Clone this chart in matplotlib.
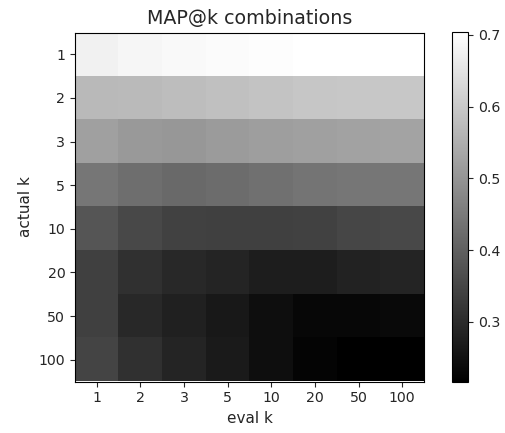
import numpy as np
import matplotlib
matplotlib.use("Agg")
import matplotlib.pyplot as plt

eval_k = [1, 2, 3, 5, 10, 20, 50, 100]
actual_k = [1, 2, 3, 5, 10, 20, 50, 100]

# rows: actual k, columns: eval k
map_scores = np.array([
    [0.677, 0.685, 0.691, 0.695, 0.700, 0.704, 0.704, 0.704],
    [0.570, 0.572, 0.578, 0.582, 0.591, 0.595, 0.597, 0.597],
    [0.522, 0.509, 0.505, 0.513, 0.518, 0.522, 0.526, 0.528],
    [0.442, 0.427, 0.419, 0.423, 0.430, 0.438, 0.442, 0.442],
    [0.379, 0.354, 0.342, 0.338, 0.338, 0.342, 0.350, 0.354],
    [0.338, 0.308, 0.296, 0.285, 0.273, 0.273, 0.281, 0.285],
    [0.338, 0.296, 0.277, 0.262, 0.243, 0.231, 0.231, 0.235],
    [0.346, 0.308, 0.285, 0.266, 0.243, 0.224, 0.216, 0.216],
])

plt.rcParams['text.color'] = '#262626'
plt.rcParams['axes.labelcolor'] = '#262626'
plt.rcParams['xtick.color'] = '#262626'
plt.rcParams['ytick.color'] = '#262626'
plt.rcParams['xtick.labelsize'] = 10.2
plt.rcParams['ytick.labelsize'] = 10.2

fig = plt.figure(figsize=(5.05, 4.33), dpi=100)
ax = fig.add_axes([75/505, 1 - 382/433, 349/505, 350/433])
cax = fig.add_axes([452/505, 1 - 382/433, 16/505, 350/433])

im = ax.imshow(map_scores, cmap='gray')
ax.set_xticks(range(len(eval_k)))
ax.set_xticklabels(eval_k)
ax.set_yticks(range(len(actual_k)))
ax.set_yticklabels(actual_k)
ax.set_xlabel('eval k', fontsize=11)
ax.set_ylabel('actual k', fontsize=11)
ax.set_title('MAP@k combinations', fontsize=13.7)
fig.colorbar(im, cax=cax)

fig.savefig('out.png')
